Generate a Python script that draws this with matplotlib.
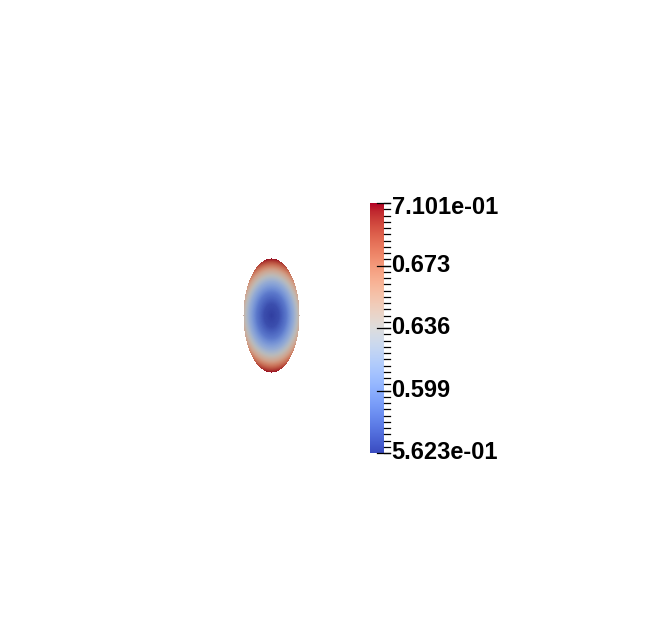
import numpy as np
import matplotlib
matplotlib.use("Agg")
import matplotlib.pyplot as plt
from matplotlib.transforms import offset_copy

# Scalar range shown on the colour bar
vmin = 0.5623
vmax = 0.7101

# Field profile (scaled distance from the centre -> value)
profile_r = [0.0, 0.2, 0.4, 0.6, 0.8, 1.0, 1.3]
profile_v = [0.5623, 0.5682, 0.5860, 0.6155, 0.6569, 0.7101, 0.7101]

# Colour bar labels
tick_values = [0.5623, 0.59925, 0.6362, 0.67315, 0.7101]
tick_labels = ["5.623e-01", "0.599", "0.636", "0.673", "7.101e-01"]
n_minor = 40

fig = plt.figure(figsize=(6.7, 6.38), dpi=100)
ax = fig.add_axes([0, 0, 1, 1])
ax.set_xlim(0, 670)
ax.set_ylim(638, 0)
ax.axis("off")

# Ellipse shaded by the field (lit surface, so a touch darker than the bar)
cx, cy, half_w, half_h = 271, 316, 28.5, 57.5
xs = np.linspace(-half_w, half_w, 57)
ys = np.linspace(-half_h, half_h, 115)
X, Y = np.meshgrid(xs, ys)
inside = (X / half_w) ** 2 + (Y / half_h) ** 2 <= 1.0
R = np.sqrt((X / 37.8) ** 2 + (Y / half_h) ** 2)
field = np.interp(R, profile_r, profile_v)
cmap = plt.get_cmap("coolwarm")
rgba = cmap((field - vmin) / (vmax - vmin))
rgba[..., :3] *= 0.84
rgba[..., 3] = inside.astype(float)
ax.imshow(rgba, extent=[cx - half_w, cx + half_w, cy + half_h, cy - half_h],
          interpolation="nearest", aspect="auto")

# Colour bar: bar spans 0..1 in x, ticks run out to 1.5
bar_px = 13.5
cax = fig.add_axes([370 / 670, (638 - 453) / 638, bar_px * 1.55 / 670, 250 / 638])
grad = np.linspace(vmin, vmax, 256).reshape(-1, 1)
cax.imshow(grad, cmap="coolwarm", vmin=vmin, vmax=vmax, origin="lower",
           extent=[0, 1, vmin, vmax], aspect="auto")
cax.set_xlim(0, 1.55)
cax.set_ylim(vmin, vmax)
cax.axis("off")

step = (vmax - vmin) / n_minor
for i in range(n_minor + 1):
    v = vmin + i * step
    cax.plot([1.0, 1.5], [v, v], color="black", lw=0.9, clip_on=False)
for i, (v, lab) in enumerate(zip(tick_values, tick_labels)):
    cax.plot([0.55, 1.5], [v, v], color="black", lw=0.9, clip_on=False)
    dy = 0
    if i == len(tick_values) - 1:
        dy = -5
    elif i == 0:
        dy = 1
    tr = offset_copy(cax.transData, fig=fig, y=dy * 0.72, units="points")
    cax.text(1.6, v, lab, fontsize=17, fontweight="bold",
             family="Liberation Sans", va="center", ha="left",
             transform=tr, clip_on=False)

fig.savefig("out.png", dpi=100, facecolor="white")
